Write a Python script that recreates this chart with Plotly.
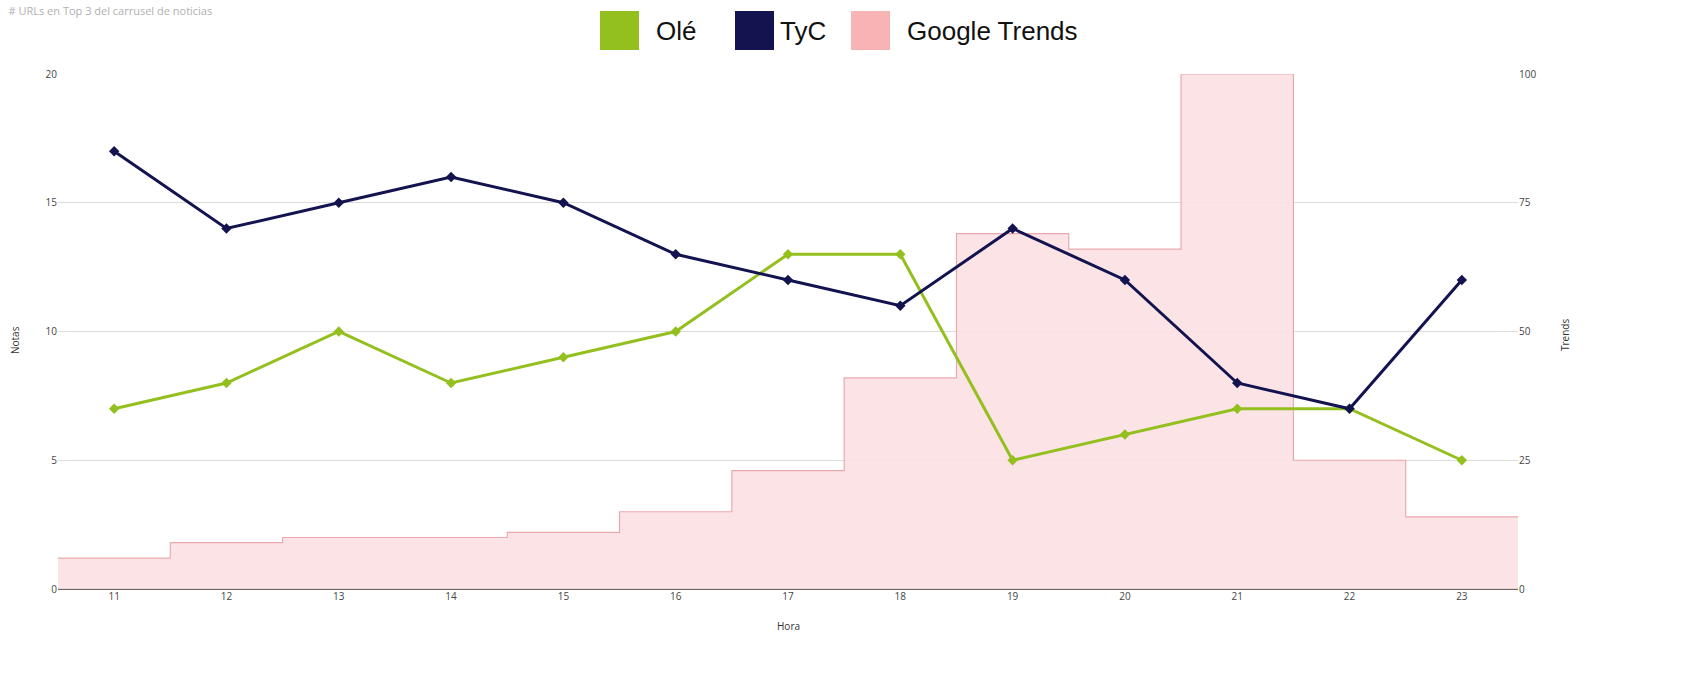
import plotly.graph_objects as go

hours = [11, 12, 13, 14, 15, 16, 17, 18, 19, 20, 21, 22, 23]
ole = [7, 8, 10, 8, 9, 10, 13, 13, 5, 6, 7, 7, 5]
tyc = [17, 14, 15, 16, 15, 13, 12, 11, 14, 12, 8, 7, 12]
trends = [6, 9, 10, 10, 11, 15, 23, 41, 69, 66, 100, 25, 14]

C_OLE = "#93C01F"
C_TYC = "#13134F"
C_TR_LINE = "#EBA9AF"
C_TR_FILL = "rgba(252,224,227,0.9)"
C_TR_LEG = "#F8B4B4"

# step edges for the trends area
tx = [h - 0.5 for h in hours] + [hours[-1] + 0.5]
ty = trends + [trends[-1]]

fig = go.Figure()
# trends on the base axis (drawn underneath)
fig.add_trace(go.Scatter(
    x=tx, y=ty, yaxis="y", mode="lines", line=dict(shape="hv", color=C_TR_LINE, width=1.2),
    fill="tozeroy", fillcolor=C_TR_FILL, name="Google Trends", showlegend=False, hoverinfo="skip"))
# notes on the overlaying axis (drawn on top)
fig.add_trace(go.Scatter(
    x=hours, y=ole, yaxis="y2", mode="lines+markers", name="Olé",
    line=dict(color=C_OLE, width=3), marker=dict(symbol="diamond", size=8, color=C_OLE),
    showlegend=False))
fig.add_trace(go.Scatter(
    x=hours, y=tyc, yaxis="y2", mode="lines+markers", name="TyC",
    line=dict(color=C_TYC, width=3), marker=dict(symbol="diamond", size=8, color=C_TYC),
    showlegend=False))

L, R, T, B = 58, 180, 74, 93
W, H = 1698, 682
pw, ph = W - L - R, H - T - B

def px(xp):
    return (xp - L) / pw

def py(yp):
    return (H - B - yp) / ph

shapes = []
annotations = []
legend_items = [("Olé", C_OLE, 600, 654), ("TyC", C_TYC, 735, 778), ("Google Trends", C_TR_LEG, 851, 905)]
for name, col, sx, tx0 in legend_items:
    shapes.append(dict(type="rect", xref="paper", yref="paper",
                       x0=px(sx), x1=px(sx + 39), y0=py(50), y1=py(11),
                       fillcolor=col, line=dict(width=0)))
    annotations.append(dict(text=name, xref="paper", yref="paper", x=px(tx0), y=py(31),
                            xanchor="left", yanchor="middle", showarrow=False,
                            font=dict(family="Liberation Sans, Arial", size=26, color="#111")))

annotations.append(dict(text="Notas", xref="paper", yref="paper", x=px(15), y=py(340),
                        textangle=-90, showarrow=False, xanchor="center", yanchor="middle",
                        font=dict(size=10, color="#333")))
annotations.append(dict(text="Trends", xref="paper", yref="paper", x=px(1565), y=py(335),
                        textangle=-90, showarrow=False, xanchor="center", yanchor="middle",
                        font=dict(size=10, color="#333")))
annotations.append(dict(text="Hora", xref="paper", yref="paper", x=px(788), y=py(626),
                        showarrow=False, xanchor="center", yanchor="middle",
                        font=dict(size=10, color="#333")))

fig.update_layout(
    width=W, height=H,
    margin=dict(l=L, r=R, t=T, b=B, pad=0),
    paper_bgcolor="white", plot_bgcolor="white",
    font=dict(family="Open Sans, Liberation Sans, Arial", size=10, color="#444"),
    title=dict(text="# URLs en Top 3 del carrusel de noticias", x=0.005, xref="container",
               y=0.99, yref="container", xanchor="left", yanchor="top",
               font=dict(size=11, color="#b0b0b0")),
    xaxis=dict(range=[10.5, 23.5], tickvals=hours, ticktext=[str(h) for h in hours],
               showgrid=False, zeroline=False, showline=False, ticks="", ticklen=0,
               tickfont=dict(size=10, color="#444")),
    yaxis=dict(range=[0, 100], tickvals=[0, 25, 50, 75, 100], side="right",
               showgrid=True, gridcolor="#dcdcdc", gridwidth=1,
               zeroline=True, zerolinecolor="#666", zerolinewidth=1.5,
               showline=False, ticks="", tickfont=dict(size=10, color="#444")),
    yaxis2=dict(range=[0, 20], tickvals=[0, 5, 10, 15, 20], overlaying="y", side="left",
                showgrid=False, zeroline=False, showline=False, ticks="",
                tickfont=dict(size=10, color="#444")),
    shapes=shapes, annotations=annotations, showlegend=False,
)

fig.write_html("out.html", config={"displayModeBar": False},
               post_script="document.body.style.margin='0';document.body.style.overflow='hidden';")
